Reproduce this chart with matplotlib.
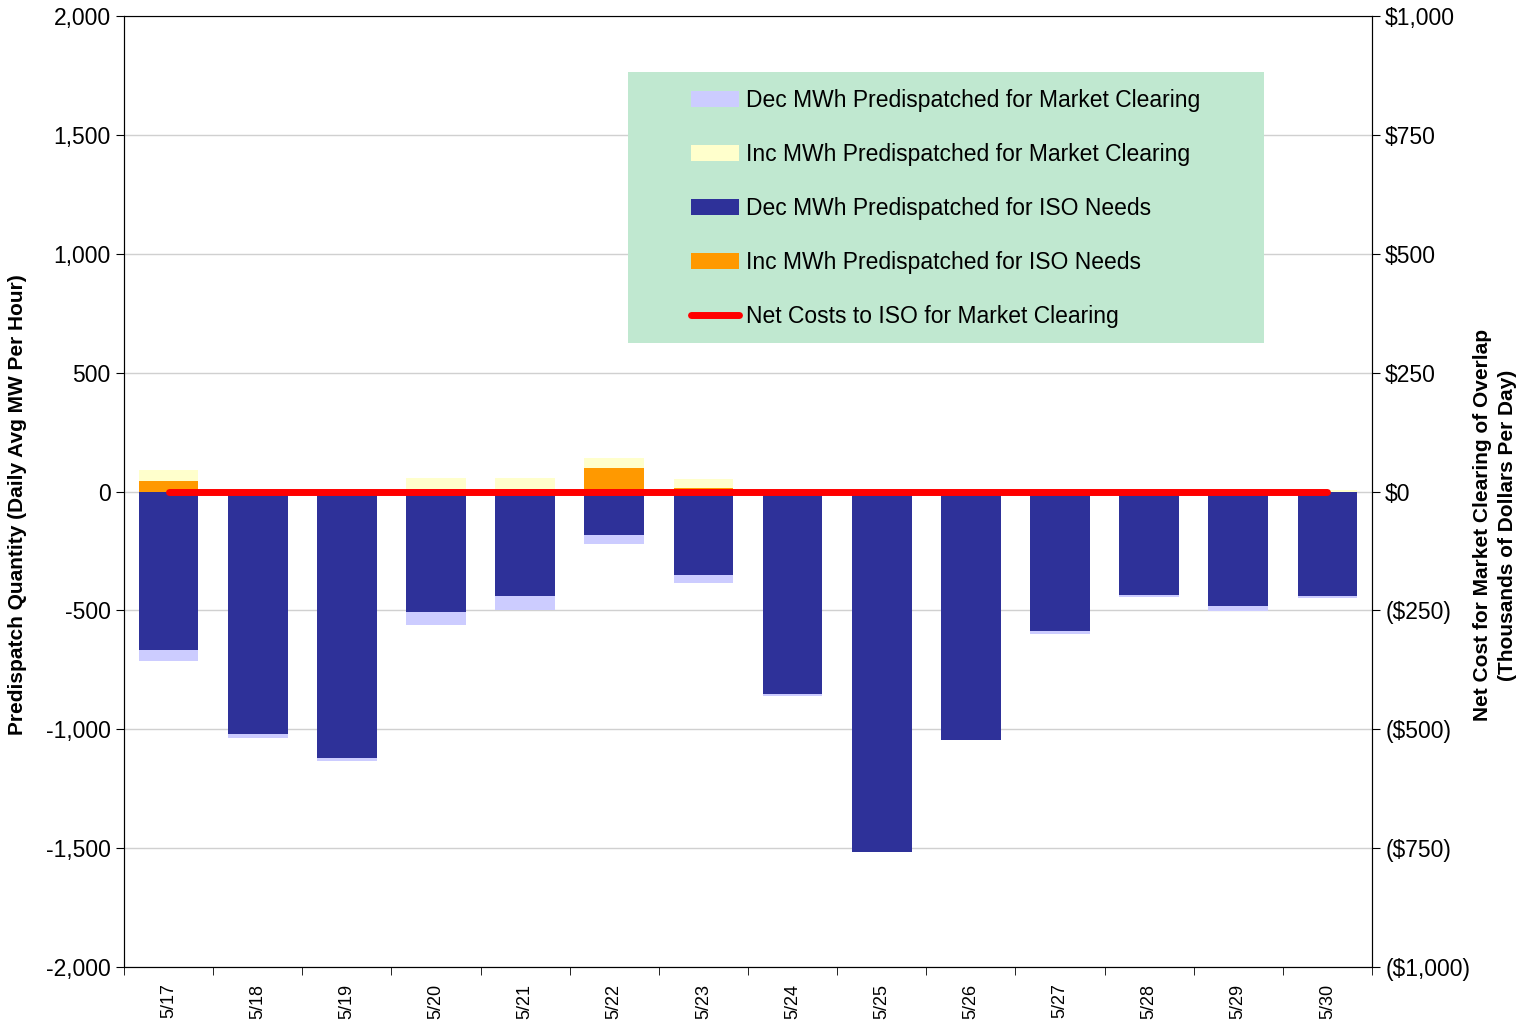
import numpy as np
import matplotlib.pyplot as plt
from matplotlib.patches import Rectangle
from matplotlib.ticker import FuncFormatter, MultipleLocator

plt.rcParams['font.family'] = ['Liberation Sans', 'DejaVu Sans']

# data
dates = ['5/17', '5/18', '5/19', '5/20', '5/21', '5/22', '5/23',
         '5/24', '5/25', '5/26', '5/27', '5/28', '5/29', '5/30']
dec_iso = [-665, -1019, -1120, -505, -438, -181, -349,
           -850, -1516, -1044, -585, -434, -480, -438]
dec_mc = [-46, -17, -13, -55, -59, -38, -34,
          -9, 0, 0, -13, -8, -21, -8]
inc_iso = [46, 0, 0, 0, 0, 101, 17,
           0, 0, 0, 0, 0, 4, 0]
inc_mc = [47, 0, 0, 59, 59, 42, 34,
          0, 0, 0, 0, 0, 4, 5]
net_cost = [0, 0, 0, 0, 0, 0, 0, 0, 0, 0, 0, 0, 0, 0]

c_dec_mc = '#CCCCFF'
c_inc_mc = '#FFFFCC'
c_dec_iso = '#2E3199'
c_inc_iso = '#FF9900'

fig = plt.figure(figsize=(15.36, 10.21), dpi=100)
ax = fig.add_axes([0.0807, 0.053, 0.8125, 0.931])
x = np.arange(len(dates))
w = 0.67

ax.bar(x, dec_iso, w, color=c_dec_iso, zorder=2, label='Dec MWh Predispatched for ISO Needs')
ax.bar(x, dec_mc, w, bottom=dec_iso, color=c_dec_mc, zorder=2,
       label='Dec MWh Predispatched for Market Clearing')
ax.bar(x, inc_iso, w, color=c_inc_iso, zorder=2, label='Inc MWh Predispatched for ISO Needs')
ax.bar(x, inc_mc, w, bottom=inc_iso, color=c_inc_mc, zorder=2,
       label='Inc MWh Predispatched for Market Clearing')

ax.set_xlim(-0.5, len(dates) - 0.5)
ax.set_ylim(-2000, 2000)
ax.yaxis.set_major_locator(MultipleLocator(500))
ax.yaxis.set_major_formatter(FuncFormatter(lambda v, p: f'{v:,.0f}'))
ax.grid(axis='y', color='#d0d0d0', lw=1, zorder=0)
ax.set_xticks(x)
ax.set_xticklabels(dates, rotation=90, fontsize=13)
ax.set_xticks(np.arange(-0.5, len(dates), 1), minor=True)
ax.tick_params(axis='x', which='major', length=0, pad=12)
ax.tick_params(axis='x', which='minor', length=6, direction='out')
ax.tick_params(axis='y', labelsize=16.5, length=6, direction='out')
ax.set_ylabel('Predispatch Quantity (Daily Avg MW Per Hour)', fontsize=15,
              fontweight='bold')
ax.yaxis.set_label_coords(-0.078, 0.486)
for s in ax.spines.values():
    s.set_color('#333333')
ax.spines['top'].set_color('#999999')

ax2 = ax.twinx()
ax2.set_ylim(-1000, 1000)
ax2.yaxis.set_major_locator(MultipleLocator(250))


def money(v, p):
    if v < 0:
        return f'(${-v:,.0f})'
    return f'${v:,.0f}'


ax2.yaxis.set_major_formatter(FuncFormatter(money))
ax2.tick_params(axis='y', labelsize=16.5, length=6, direction='out')
ax2.plot(x, net_cost, color='#FF0000', lw=5, solid_capstyle='round', zorder=3,
         label='Net Costs to ISO for Market Clearing')
ax2.set_ylabel('Net Cost for Market Clearing of Overlap\n(Thousands of Dollars Per Day)',
               fontsize=15, fontweight='bold', linespacing=1.4)
ax2.yaxis.set_label_coords(1.081, 0.465)

# legend background box
fig.patches.append(Rectangle((628 / 1536, 1 - 343 / 1021), 636 / 1536, 271 / 1021,
                             transform=fig.transFigure, facecolor='#C0E8D0',
                             edgecolor='none', zorder=5))

h1, l1 = ax.get_legend_handles_labels()
h2, l2 = ax2.get_legend_handles_labels()
order = [1, 3, 0, 2]
handles = [h1[i] for i in order] + h2
labels = [l1[i] for i in order] + l2
leg = fig.legend(handles, labels, loc='upper left',
                 bbox_to_anchor=(691 / 1536, 1 - 89 / 1021),
                 bbox_transform=fig.transFigure,
                 fontsize=16.5, frameon=False, labelspacing=1.35, handlelength=2.1,
                 handletextpad=0.3, borderpad=0, borderaxespad=0)
leg.set_zorder(6)

fig.savefig('out.png', dpi=100)
